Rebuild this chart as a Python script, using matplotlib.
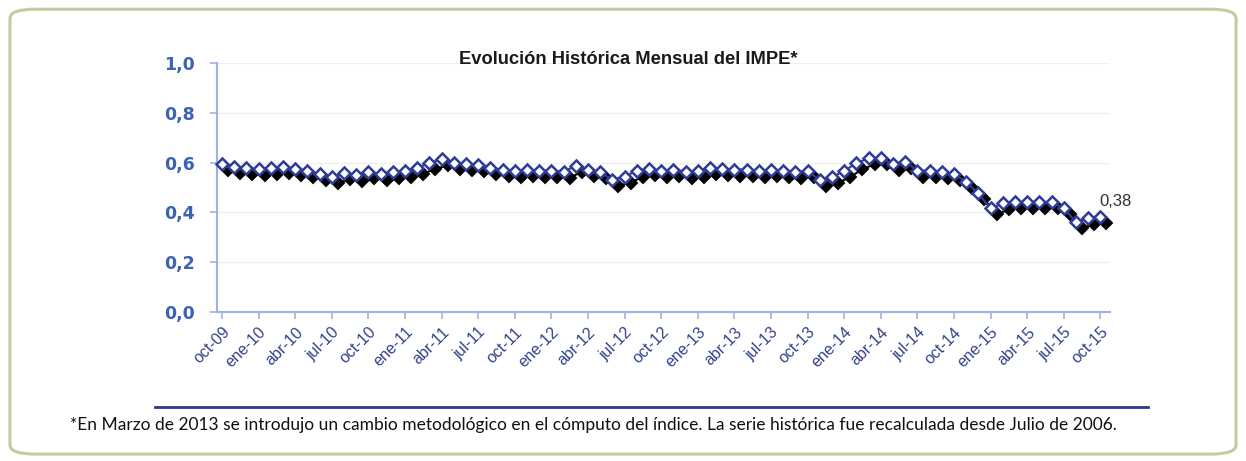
import matplotlib.pyplot as plt
import matplotlib.transforms as mtransforms
from matplotlib.patches import FancyBboxPatch
from matplotlib.lines import Line2D

# IMPE mensual, oct-09 a oct-15 (73 meses)
impe = [
    0.593, 0.581, 0.577, 0.576, 0.578, 0.584, 0.576, 0.565, 0.553, 0.542,
    0.558, 0.549, 0.561, 0.556, 0.562, 0.566, 0.579, 0.599, 0.613, 0.599,
    0.596, 0.590, 0.578, 0.572, 0.568, 0.572, 0.568, 0.568, 0.564, 0.586,
    0.572, 0.561, 0.532, 0.543, 0.568, 0.575, 0.568, 0.572, 0.564, 0.568,
    0.577, 0.575, 0.572, 0.572, 0.568, 0.572, 0.565, 0.563, 0.566, 0.530,
    0.542, 0.566, 0.598, 0.617, 0.618, 0.594, 0.604, 0.568, 0.568, 0.561,
    0.555, 0.522, 0.476, 0.416, 0.436, 0.441, 0.443, 0.441, 0.441, 0.416,
    0.362, 0.376, 0.381,
]
x_labels = [
    "oct-09", "ene-10", "abr-10", "jul-10", "oct-10", "ene-11", "abr-11",
    "jul-11", "oct-11", "ene-12", "abr-12", "jul-12", "oct-12", "ene-13",
    "abr-13", "jul-13", "oct-13", "ene-14", "abr-14", "jul-14", "oct-14",
    "ene-15", "abr-15", "jul-15", "oct-15",
]
y_ticks = [0.0, 0.2, 0.4, 0.6, 0.8, 1.0]
y_labels = ["0,0", "0,2", "0,4", "0,6", "0,8", "1,0"]
ultimo = "0,38"

x = list(range(len(impe)))
x_ticks = x[::3]

fig = plt.figure(figsize=(12.46, 4.61), dpi=100)
ax = fig.add_axes([0.1742, 0.3232, 0.7167, 0.5401])

# sombra negra desplazada
shadow = mtransforms.offset_copy(ax.transData, fig=fig, x=6, y=-6, units="dots")
ax.plot(x, impe, color="black", lw=1.5, marker="D", ms=6, mfc="black",
        mec="black", mew=1.4, transform=shadow, zorder=2, clip_on=False)
ax.plot(x, impe, color="#2E3C96", lw=1.5, marker="D", ms=6, mfc="white",
        mec="#2E3C96", mew=1.8, zorder=3, clip_on=False)

ax.set_xlim(-0.4, 72.8)
ax.set_ylim(0, 1.0)
ax.set_yticks(y_ticks)
ax.set_yticklabels(y_labels, fontsize=12.5, fontweight="bold", color="#3A62B5",
                   family="DejaVu Sans")
ax.set_xticks(x_ticks)
ax.set_xticklabels(x_labels, rotation=45, ha="right", rotation_mode="anchor",
                   fontsize=11.5, color="#34428A", family="Liberation Sans")
ax.tick_params(axis="both", colors="#9FB3E0", length=5, width=1.2)
ax.tick_params(axis="y", labelcolor="#3A62B5", pad=11)
ax.tick_params(axis="x", labelcolor="#34428A", pad=4)

for s in ["top", "right"]:
    ax.spines[s].set_visible(False)
for s in ["left", "bottom"]:
    ax.spines[s].set_color("#9FB3E0")
    ax.spines[s].set_linewidth(1.5)

ax.grid(axis="y", color="#EFEFEF", lw=1)
ax.set_axisbelow(True)

ax.annotate(ultimo, (x[-1], impe[-1]), xytext=(-1, 8), textcoords="offset points",
            fontsize=12, color="#333333", family="Liberation Sans")

fig.text(0.504, 0.870, "Evolución Histórica Mensual del IMPE*", ha="center",
         va="center", fontsize=13.2, fontweight="bold", family="Liberation Sans",
         color="#1A1A1A")

# marco redondeado
frame = FancyBboxPatch((0.008, 0.015), 0.984, 0.965,
                       boxstyle="round,pad=0,rounding_size=0.02",
                       transform=fig.transFigure, fill=False,
                       edgecolor="#C8C8A2", lw=2.2)
fig.patches.append(frame)

fig.add_artist(Line2D([0.124, 0.921], [0.117, 0.117], transform=fig.transFigure,
                      color="#2B3990", lw=2))

fig.text(0.056, 0.078,
         "*En Marzo de 2013 se introdujo un cambio metodológico en el cómputo del índice. "
         "La serie histórica fue recalculada desde Julio de 2006.",
         ha="left", va="center", fontsize=12.5, family="Lato", color="#111111")

fig.savefig("out.png", dpi=100)
